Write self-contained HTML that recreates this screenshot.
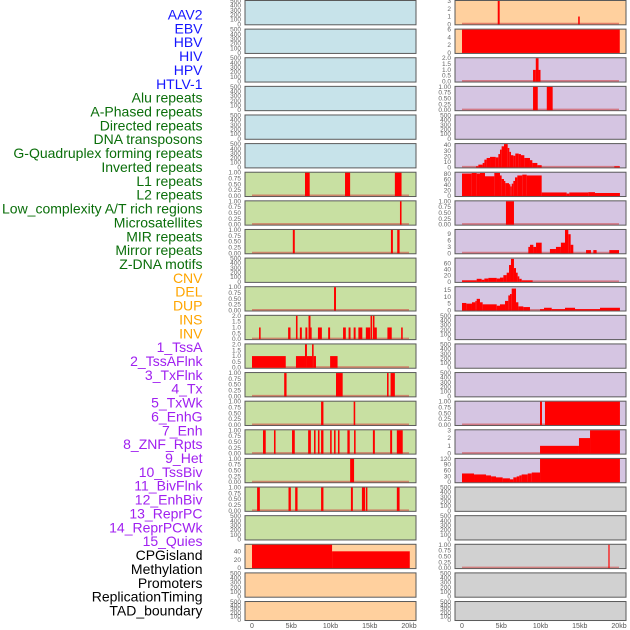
<!DOCTYPE html>
<html><head><meta charset="utf-8">
<style>
html,body{margin:0;padding:0;background:#fff;}
svg{display:block;font-family:"Liberation Sans",sans-serif;}
</style></head>
<body>
<svg id="chart" width="630" height="630" viewBox="0 0 630 630" xmlns="http://www.w3.org/2000/svg">
<g id="labels"></g>
<g id="panels"></g>
<g id="xaxes"></g>
</svg>
<script>
// ---- track labels ----
const labelNames = ["AAV2","EBV","HBV","HIV","HPV","HTLV-1","Alu repeats","A-Phased repeats","Directed repeats","DNA transposons","G-Quadruplex forming repeats","Inverted repeats","L1 repeats","L2 repeats","Low_complexity A/T rich regions","Microsatellites","MIR repeats","Mirror repeats","Z-DNA motifs","CNV","DEL","DUP","INS","INV","1_TssA","2_TssAFlnk","3_TxFlnk","4_Tx","5_TxWk","6_EnhG","7_Enh","8_ZNF_Rpts","9_Het","10_TssBiv","11_BivFlnk","12_EnhBiv","13_ReprPC","14_ReprPCWk","15_Quies","CPGisland","Methylation","Promoters","ReplicationTiming","TAD_boundary"];
const labelGroups = [6,13,5,15,5];
const groupColors = ["#1515ff","#0a6e0a","#ffa500","#a020f0","#000000"];

// ---- x axis ----
const xTickValues = [0,5,10,15,20];
const xTickLabels = ["0","5kb","10kb","15kb","20kb"];

// ---- tick label sets ----
const ticksEmpty = ["0","100","200","300","400","500"];
const ticksOne = ["0.00","0.25","0.50","0.75","1.00"];
const ticksTwo = ["0.0","0.5","1.0","1.5","2.0"];

// ---- left column segments [startKb, endKb, value] ----
const L07 = [[6.75,7.35,1],[11.85,12.5,1],[18.2,19.05,1]];
const L08 = [[18.85,19.05,1]];
const L09 = [[5.2,5.45,1],[17.7,17.95,1],[18.5,18.8,1]];
const L11 = [[10.45,10.7,1]];
const L12 = [[0.9,1.1,1],[4.6,4.9,1],[5.6,5.8,2],[6.1,6.35,1],[6.8,7.05,1],[7.2,7.45,2],[7.45,7.6,1],[8.4,8.9,1],[9.7,9.95,1],[11.6,11.95,1],[12.3,12.55,1],[12.95,13.2,1],[13.55,14.05,1],[14.5,15.05,1],[15.1,15.3,2],[15.4,15.6,2],[15.6,15.9,1],[17.25,17.8,1],[19.0,19.2,1]];
const L13 = [[0,4.3,1],[5.6,6.75,1],[6.75,7.0,2],[7.0,7.65,1],[7.65,7.85,2],[7.85,8.15,1],[9.95,10.9,1]];
const L14 = [[4.1,4.4,1],[10.7,11.55,1],[17.2,17.4,1],[17.65,18.2,1]];
const L15 = [[8.8,9.1,1],[12.95,13.15,1]];
const L16 = [[1.4,1.75,1],[2.8,3.0,1],[5.1,5.45,1],[7.15,7.5,1],[7.9,8.1,1],[8.4,8.6,1],[8.8,9.1,1],[9.95,10.15,1],[10.45,10.65,1],[10.95,11.15,1],[12.15,12.45,1],[13.0,13.2,1],[15.4,15.65,1],[17.6,17.85,1],[18.45,19.2,1]];
const L17 = [[12.5,13.0,1]];
const L18 = [[0.65,1.0,1],[4.65,4.95,1],[5.5,5.8,1],[8.8,9.1,1],[12.6,12.85,1],[14.0,14.4,1],[14.5,14.7,1],[18.45,18.8,1]];
const L20 = [[0,10.2,57],[10.2,20.1,41]];

// ---- right column segments ----
const R01 = [[4.55,4.8,3],[14.8,15.0,1]];
const R02 = [[0,20.1,6]];
const R03 = [[9.05,9.4,1],[9.4,9.75,2],[9.75,10.0,1]];
const R04 = [[9.05,9.65,1],[10.8,11.55,1]];
const R06 = [[1.78,2.08,2],[2.08,2.63,5],[2.63,2.85,8],[2.85,3.14,14],[3.14,3.57,17],[3.57,4.29,19],[4.29,4.63,18],[4.63,4.84,24],[4.84,5.05,32],[5.05,5.35,38],[5.35,5.82,42],[5.82,6.03,35],[6.03,6.24,28],[6.24,6.54,22],[6.54,6.79,21],[6.79,7.22,25],[7.22,7.51,24],[7.51,7.94,22],[7.94,8.66,17],[8.66,8.96,13],[8.96,9.6,8],[9.6,10.15,4],[19.4,20.12,2]];
const R07 = [[0,1.23,82],[1.23,1.87,84],[1.87,2.29,82],[2.29,2.93,84],[2.93,4.12,72],[4.12,4.84,84],[4.84,5.05,75],[5.05,5.35,62],[5.35,5.52,55],[5.52,5.99,47],[5.99,6.16,43],[6.16,6.33,35],[6.33,6.54,45],[6.54,6.75,55],[6.75,7.05,68],[7.05,7.68,75],[7.68,8.24,78],[8.24,10.15,75],[10.15,13.33,13],[13.33,13.67,9],[13.67,16.09,13],[16.09,16.94,14],[16.94,20.12,11]];
const R08 = [[5.6,6.62,1]];
const R09 = [[8.45,8.66,3],[8.66,9.09,4],[9.09,9.43,3],[9.43,10.15,5],[11.2,11.97,2],[11.97,12.6,3],[12.6,13.12,5],[13.12,13.54,11],[13.54,13.84,9],[13.84,14.18,4],[15.8,16.43,1.5],[16.73,17.15,1.5],[18.77,20.0,1.5]];
const R10 = [[0,1.87,5],[1.87,2.5,10],[2.5,2.85,7],[2.85,3.36,11],[3.36,4.42,13],[4.42,4.84,11],[4.84,5.27,14],[5.27,5.69,22],[5.69,5.99,30],[5.99,6.24,55],[6.24,6.62,75],[6.62,6.88,45],[6.88,7.09,30],[7.09,7.3,18],[7.3,7.6,10],[7.6,9.0,5]];
const R11 = [[0,0.55,5.5],[0.55,1.27,5],[1.27,1.7,6],[1.7,1.87,7],[1.87,2.29,8.5],[2.29,2.63,6],[2.63,4.42,4.5],[4.42,4.84,3.5],[4.84,5.48,4.5],[5.48,5.9,7],[5.9,6.11,11],[6.11,6.33,12],[6.33,6.88,16],[6.88,7.18,6],[7.18,7.81,3],[7.81,8.66,2.5],[9.94,10.45,1],[10.45,11.43,2],[11.43,13.12,1],[13.12,14.4,2],[14.4,17.58,1],[17.58,20.12,2]];
const R15 = [[9.94,10.19,1],[10.57,20.12,1]];
const R16 = [[9.94,14.9,1],[14.9,16.31,2],[16.31,20.12,3]];
const R17 = [[0,1.53,45],[1.53,3.06,40],[3.06,3.7,35],[3.7,4.33,30],[4.33,5.18,25],[5.18,6.11,20],[6.11,6.54,15],[6.54,6.96,25],[6.96,7.3,30],[7.3,7.6,35],[7.6,8.37,40],[8.37,8.88,45],[8.88,9.94,50],[9.94,20.12,120]];
const R20 = [[18.65,18.8,1]];

const BLUE="#c7e3ea", GREEN="#c8e0a2", PEACH="#ffd09e", LAV="#d5c5e2", GRAY="#d1d1d1";
// panel configs: [segments, ymax, tickLabels, bg]
const leftPanels = [
 [null,500,ticksEmpty,BLUE],[null,500,ticksEmpty,BLUE],[null,500,ticksEmpty,BLUE],[null,500,ticksEmpty,BLUE],[null,500,ticksEmpty,BLUE],[null,500,ticksEmpty,BLUE],
 [L07,1,ticksOne,GREEN],[L08,1,ticksOne,GREEN],[L09,1,ticksOne,GREEN],[null,500,ticksEmpty,GREEN],[L11,1,ticksOne,GREEN],
 [L12,2,ticksTwo,GREEN],[L13,2,ticksTwo,GREEN],[L14,1,ticksOne,GREEN],[L15,1,ticksOne,GREEN],[L16,1,ticksOne,GREEN],[L17,1,ticksOne,GREEN],[L18,1,ticksOne,GREEN],[null,500,ticksEmpty,GREEN],
 [L20,57,["0","20","40"],PEACH],[null,500,ticksEmpty,PEACH],[null,500,ticksEmpty,PEACH]
];
const rightPanels = [
 [R01,3,["0","1","2","3"],PEACH],[R02,6,["0","2","4","6"],PEACH],
 [R03,2,ticksTwo,LAV],[R04,1,ticksOne,LAV],[null,500,ticksEmpty,LAV],
 [R06,42,["0","10","20","30","40"],LAV],[R07,85,["0","20","40","60","80"],LAV],[R08,1,ticksOne,LAV],
 [R09,11,["0","3","6","9"],LAV],[R10,76,["0","20","40","60"],LAV],[R11,17,["0","5","10","15"],LAV],
 [null,500,ticksEmpty,LAV],[null,500,ticksEmpty,LAV],[null,500,ticksEmpty,LAV],
 [R15,1,ticksOne,LAV],[R16,3,["0","1","2","3"],LAV],[R17,120,["0","30","60","90","120"],LAV],
 [null,500,ticksEmpty,GRAY],[null,500,ticksEmpty,GRAY],[R20,1,ticksOne,GRAY],[null,500,ticksEmpty,GRAY],[null,500,ticksEmpty,GRAY]
];

const NS="http://www.w3.org/2000/svg";
function mk(tag, attrs, parent){const e=document.createElementNS(NS,tag);for(const k in attrs)e.setAttribute(k,attrs[k]);parent.appendChild(e);return e;}

// labels
const lg=document.getElementById('labels');
let li=0;
labelGroups.forEach((n,g)=>{for(let j=0;j<n;j++){
  const t=mk('text',{x:202.5,y:(19.5+li*13.86).toFixed(1),'text-anchor':'end','font-size':'14',fill:groupColors[g]},lg);
  
  
  t.textContent=labelNames[li]; li++;}});

const KB=7.85;
function drawColumn(panels, px0, px1, zeroX, tickRight, side){
  const pg=document.getElementById('panels');
  panels.forEach((p,i)=>{
    const [segs,ymax,ticks,bg]=p;
    const top=0.5+i*28.62;
    const h=(i===panels.length-1)?19:24.3;
    const bottom=top+h;
    const g=mk('g',{},pg);
    
    
    mk('rect',{x:px0,y:top,width:px1-px0,height:h,fill:bg,stroke:'#5a5a5a','stroke-width':1},g);
    const xs=kb=>zeroX+kb*KB;
    const ys=v=>bottom-0.5-(v/ymax)*(h-1);
    // ticks
    ticks.forEach(tl=>{
      const v=parseFloat(tl);
      const t=mk('text',{x:tickRight,y:(ys(v)+2).toFixed(1),'text-anchor':'end','font-size':'6.5',fill:'#666'},g);
      
      
      t.textContent=tl;
    });
    if(segs){
      mk('line',{x1:xs(0),x2:xs(20),y1:bottom-1.2,y2:bottom-1.2,stroke:'rgba(210,60,60,0.55)','stroke-width':1.6},g);
      segs.forEach(s=>{
        const x=xs(s[0]), w=Math.max(xs(s[1])-x,1);
        const r=mk('rect',{x:x.toFixed(2),y:ys(s[2]).toFixed(2),width:w.toFixed(2),height:(bottom-0.5-ys(s[2])).toFixed(2),fill:'#ff0000'},g);
        
        
      });
    }
  });
  const xg=document.getElementById('xaxes');
  xTickValues.forEach((v,k)=>{
    const t=mk('text',{x:zeroX+v*KB,y:628,'text-anchor':'middle','font-size':'7',fill:'#555'},xg);
    
    
    t.textContent=xTickLabels[k];
  });
}
drawColumn(leftPanels,245,416,252,241,'left');
drawColumn(rightPanels,455,626,462,451,'right');
</script>
</body></html>
